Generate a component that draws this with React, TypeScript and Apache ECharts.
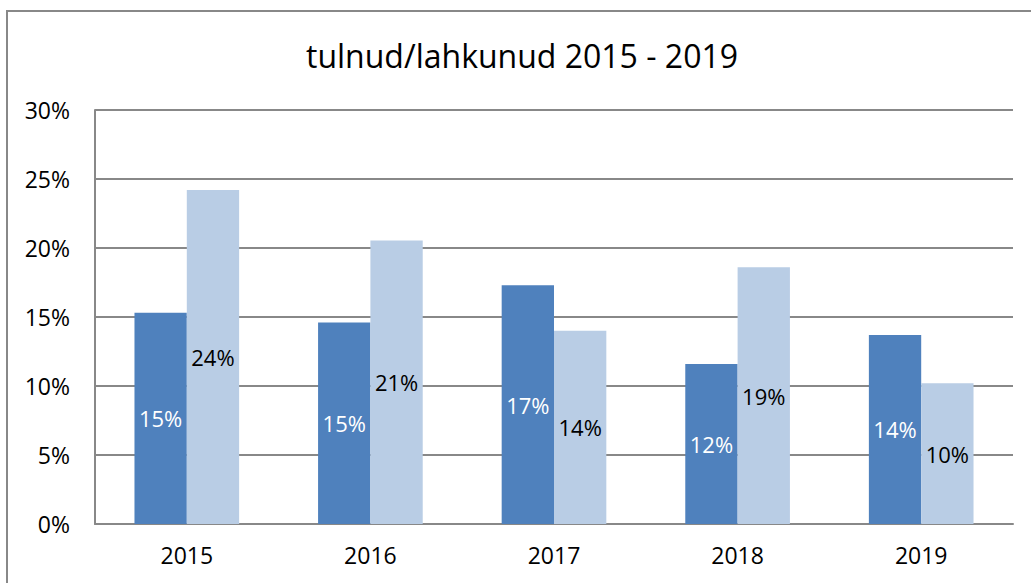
import React, { useEffect, useRef } from "react";
import * as echarts from "echarts";

const title = "tulnud/lahkunud 2015 - 2019";
const categories = ["2015", "2016", "2017", "2018", "2019"];
const tulnud = [15.3, 14.6, 17.3, 11.6, 13.7];
const lahkunud = [24.2, 20.55, 14.0, 18.6, 10.2];
const yTicks = { min: 0, max: 30, interval: 5 };

const FONT = "'Open Sans', sans-serif";

export default function App() {
  const ref = useRef<HTMLDivElement>(null);
  useEffect(() => {
    if (!ref.current) return;
    const chart = echarts.init(ref.current, null, { renderer: "svg" });
    chart.setOption({
      animation: false,
      backgroundColor: "#ffffff",
      textStyle: { fontFamily: FONT },
      title: {
        text: title,
        left: 517,
        top: 34,
        textAlign: "center",
        textStyle: { fontFamily: FONT, fontSize: 32, fontWeight: "normal", color: "#000" },
      },
      graphic: [
        {
          type: "rect",
          shape: { x: 7, y: 11, width: 1040, height: 600 },
          style: { fill: "none", stroke: "#888888", lineWidth: 2 },
          silent: true,
        },
      ],
      grid: { left: 95, top: 110, right: 18, bottom: 59 },
      xAxis: {
        type: "category",
        data: categories,
        axisLine: { lineStyle: { color: "#888888", width: 2 } },
        axisTick: { show: false },
        axisLabel: { color: "#000", fontSize: 23, fontFamily: FONT, margin: 19 },
      },
      yAxis: {
        type: "value",
        min: yTicks.min,
        max: yTicks.max,
        interval: yTicks.interval,
        axisLine: { show: true, lineStyle: { color: "#888888", width: 2 } },
        axisTick: { show: false },
        splitLine: { lineStyle: { color: "#888888", width: 2 } },
        axisLabel: {
          color: "#000",
          fontSize: 23,
          fontFamily: FONT,
          margin: 25,
          formatter: (v: number) => v + "%",
        },
      },
      series: [
        {
          name: "tulnud",
          type: "bar",
          data: tulnud,
          barGap: "0%",
          barCategoryGap: "43%",
          itemStyle: { color: "#4F81BD" },
          label: {
            show: true,
            position: "inside",
            color: "#ffffff",
            fontSize: 22,
            fontFamily: FONT,
            formatter: (p: any) => Math.round(p.value) + "%",
          },
        },
        {
          name: "lahkunud",
          type: "bar",
          data: lahkunud,
          itemStyle: { color: "#B9CDE5" },
          label: {
            show: true,
            position: "inside",
            color: "#000000",
            fontSize: 22,
            fontFamily: FONT,
            formatter: (p: any) => Math.round(p.value) + "%",
          },
        },
      ],
    });
    return () => chart.dispose();
  }, []);
  return (
    <div
      ref={ref}
      style={{ position: "fixed", left: 0, top: 0, width: 1031, height: 583 }}
    />
  );
}
